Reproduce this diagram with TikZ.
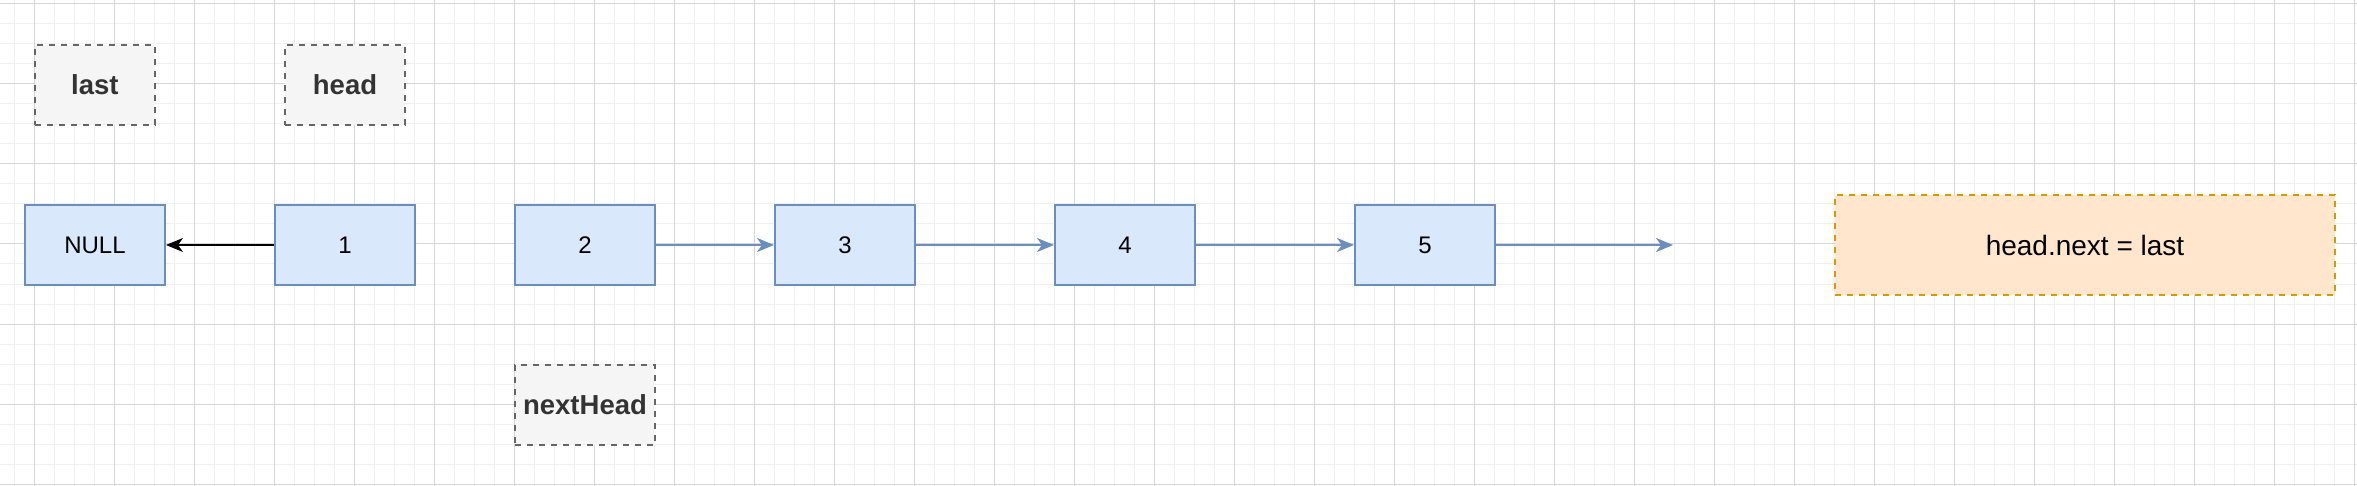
\documentclass[tikz,border=0pt]{standalone}
\usepackage{fontspec}
\setmainfont{Liberation Sans}
\usetikzlibrary{arrows.meta}
\definecolor{bfill}{HTML}{DAE8FC}
\definecolor{bline}{HTML}{6C8EBF}
\definecolor{gfill}{HTML}{F5F5F5}
\definecolor{gline}{HTML}{666666}
\definecolor{gtext}{HTML}{333333}
\definecolor{ofill}{HTML}{FFE6CC}
\definecolor{oline}{HTML}{D79B00}
\definecolor{gridminor}{HTML}{F0F0F0}
\definecolor{gridmajor}{HTML}{D6D6D6}
\tikzset{
  listbox/.style={draw=bline, fill=bfill, line width=2pt, minimum width=140pt, minimum height=80pt, inner sep=0pt, font=\fontsize{24}{28}\selectfont},
  varbox/.style={draw=gline, fill=gfill, line width=2pt, dash pattern=on 6pt off 6pt, minimum width=#1, minimum height=80pt, inner sep=0pt, text=gtext, font=\fontsize{27.5}{32}\selectfont\bfseries},
  notebox/.style={draw=oline, fill=ofill, line width=2pt, dash pattern=on 6pt off 6pt, minimum width=500pt, minimum height=100pt, inner sep=0pt, font=\fontsize{28}{32}\selectfont},
  blink/.style={draw=bline, line width=2pt, -{Stealth[length=17pt,width=14pt,inset=5pt]}},
  klink/.style={draw=black, line width=2pt, -{Stealth[length=17pt,width=14pt,inset=5pt]}}
}
\begin{document}
\begin{tikzpicture}[x=1pt,y=-1pt]
\useasboundingbox (0,0) rectangle (2357,486);
\fill[white] (0,0) rectangle (2357,486);
% grid
\foreach \i in {0,...,118} {\draw[gridminor, line width=1pt] ({14.7+20*\i},0) -- ({14.7+20*\i},486);}
\foreach \j in {0,...,24} {\draw[gridminor, line width=1pt] (0,{4+20*\j}) -- (2357,{4+20*\j});}
\foreach \i in {0,...,29} {\draw[gridmajor, line width=1pt] ({34.7+80*\i},0) -- ({34.7+80*\i},486);}
\foreach \j in {0,...,6} {\draw[gridmajor, line width=1pt] (0,{4+80*\j}) -- (2357,{4+80*\j});}
% variable boxes
\node[varbox=120pt] (last) at (94.85,85) {last};
\node[varbox=120pt] (head) at (345,85) {head};
\node[varbox=140pt] (nexthead) at (585,405) {nextHead};
% list nodes
\node[listbox] (null) at (95,245) {NULL};
\node[listbox] (n1) at (345,245) {1};
\node[listbox] (n2) at (585,245) {2};
\node[listbox] (n3) at (845,245) {3};
\node[listbox] (n4) at (1125,245) {4};
\node[listbox] (n5) at (1425,245) {5};
\coordinate (end) at (1673,245);
% note
\node[notebox] (note) at (2085,245) {head.next = last};
% links
\draw[klink] (n1.west) -- (null.east);
\draw[blink] (n2.east) -- (n3.west);
\draw[blink] (n3.east) -- (n4.west);
\draw[blink] (n4.east) -- (n5.west);
\draw[blink] (n5.east) -- (end);
\end{tikzpicture}
\end{document}
